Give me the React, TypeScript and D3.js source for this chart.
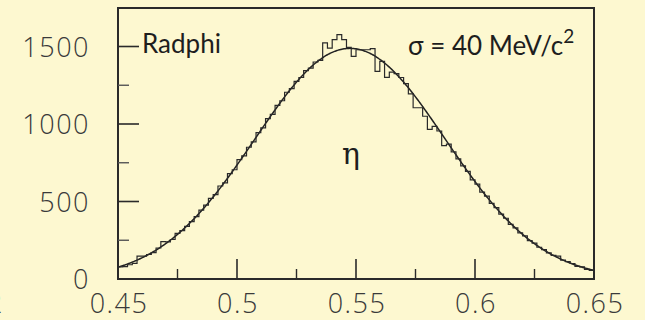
import React from "react";
import * as d3 from "d3";

// Histogram of the two-photon invariant mass (GeV/c^2), 2 MeV bins from 0.45 to 0.65
const BIN_START = 0.45;
const BIN_WIDTH = 0.002;
const counts = [
  78, 80, 92, 101, 148, 148, 158, 170, 200, 241,
  240, 255, 295, 312, 340, 370, 402, 445, 477, 520,
  545, 600, 620, 680, 705, 770, 795, 850, 885, 945,
  975, 1035, 1062, 1120, 1150, 1205, 1228, 1275, 1300, 1345,
  1360, 1400, 1410, 1523, 1490, 1544, 1577, 1544, 1495, 1436,
  1479, 1479, 1479, 1486, 1340, 1404, 1301, 1335, 1325, 1300,
  1260, 1195, 1105, 1105, 1050, 965, 985, 955, 860, 870,
  820, 775, 730, 695, 640, 612, 560, 535, 488, 460,
  418, 392, 352, 330, 298, 278, 248, 232, 205, 190,
  168, 152, 148, 122, 112, 100, 82, 78, 62, 56,
];

// Gaussian fit parameters
const fitMean = 0.5475;
const fitSigma = 0.04;
const fitAmplitude = 1488;

const xTicksMajor = [0.45, 0.5, 0.55, 0.6, 0.65];
const xTicksMinor = [0.475, 0.525, 0.575, 0.625];
const xTickLabels = ["0.45", "0.5", "0.55", "0.6", "0.65"];
const yTicksMajor = [0, 500, 1000, 1500];
const yTicksMinor = [250, 750, 1250];
const yTickLabels = ["0", "500", "1000", "1500"];

const W = 645;
const H = 320;
const frame = { left: 118, right: 594, top: 8, bottom: 279 };

export default function App() {
  const x = d3.scaleLinear().domain([0.45, 0.65]).range([frame.left, frame.right]);
  const y = d3.scaleLinear().domain([0, 1500]).range([frame.bottom, 46.5]);

  const stepPoints: [number, number][] = counts.map((c, i) => [BIN_START + i * BIN_WIDTH, c]);
  stepPoints.push([BIN_START + counts.length * BIN_WIDTH, counts[counts.length - 1]]);
  const histPath = d3
    .line<[number, number]>()
    .x((d) => x(d[0]))
    .y((d) => y(d[1]))
    .curve(d3.curveStepAfter)(stepPoints);

  const gauss = (m: number) =>
    fitAmplitude * Math.exp(-0.5 * Math.pow((m - fitMean) / fitSigma, 2));
  const fitXs = d3.range(0.45, 0.65 + 1e-9, 0.0005);
  const fitPath = d3
    .line<number>()
    .x((m) => x(m))
    .y((m) => y(gauss(m)))
    .curve(d3.curveMonotoneX)(fitXs);

  const tickFont = {
    fontFamily: "'Open Sans', 'Liberation Sans', sans-serif",
    fontWeight: 300,
    fontSize: 27,
    letterSpacing: 1.5,
    fill: "#3a3a3a",
  } as const;
  const textFont = {
    fontFamily: "Lato, 'Open Sans', sans-serif",
    fontSize: 26,
    fill: "#1e1e1e",
  } as const;

  return (
    <svg
      width={W}
      height={H}
      style={{ position: "fixed", left: 0, top: 0, display: "block" }}
    >
      <rect x={0} y={0} width={W} height={H} fill="#fdf8d0" />

      {/* fit curve */}
      <path d={fitPath ?? ""} fill="none" stroke="#222" strokeWidth={1.5} />
      {/* histogram */}
      <path d={histPath ?? ""} fill="none" stroke="#2a2a2a" strokeWidth={1.2} />

      {/* frame */}
      <rect
        x={frame.left}
        y={frame.top}
        width={frame.right - frame.left}
        height={frame.bottom - frame.top}
        fill="none"
        stroke="#2a2a2a"
        strokeWidth={2}
      />

      {/* y ticks */}
      {yTicksMajor.map((t) => (
        <line key={"ym" + t} x1={frame.left} x2={frame.left + 21} y1={y(t)} y2={y(t)} stroke="#2a2a2a" strokeWidth={1.6} />
      ))}
      {yTicksMinor.map((t) => (
        <line key={"yn" + t} x1={frame.left} x2={frame.left + 11} y1={y(t)} y2={y(t)} stroke="#555" strokeWidth={1.4} />
      ))}
      {/* x ticks */}
      {xTicksMajor.map((t) => (
        <line key={"xm" + t} x1={x(t)} x2={x(t)} y1={frame.bottom} y2={frame.bottom - 20} stroke="#2a2a2a" strokeWidth={1.6} />
      ))}
      {xTicksMinor.map((t) => (
        <line key={"xn" + t} x1={x(t)} x2={x(t)} y1={frame.bottom} y2={frame.bottom - 10} stroke="#2a2a2a" strokeWidth={1.4} />
      ))}

      {/* tick labels */}
      {yTicksMajor.map((t, i) => (
        <text key={"yl" + t} x={90} y={y(t) + 10} textAnchor="end" style={tickFont}>
          {yTickLabels[i]}
        </text>
      ))}
      {xTicksMajor.map((t, i) => (
        <text key={"xl" + t} x={x(t) + 1} y={313} textAnchor="middle" style={tickFont}>
          {xTickLabels[i]}
        </text>
      ))}
      <text x={4} y={313} textAnchor="end" style={tickFont}>2</text>

      {/* annotations */}
      <text x={142} y={53} style={textFont}>Radphi</text>
      <text x={408} y={55} style={textFont}>
        σ = 40 MeV/c
        <tspan dy={-12} fontSize={19}>2</tspan>
      </text>
      <text x={351} y={164} textAnchor="middle" style={{ ...textFont, fontFamily: "'DejaVu Serif', serif", fontSize: 30 }}>
        η
      </text>
    </svg>
  );
}
